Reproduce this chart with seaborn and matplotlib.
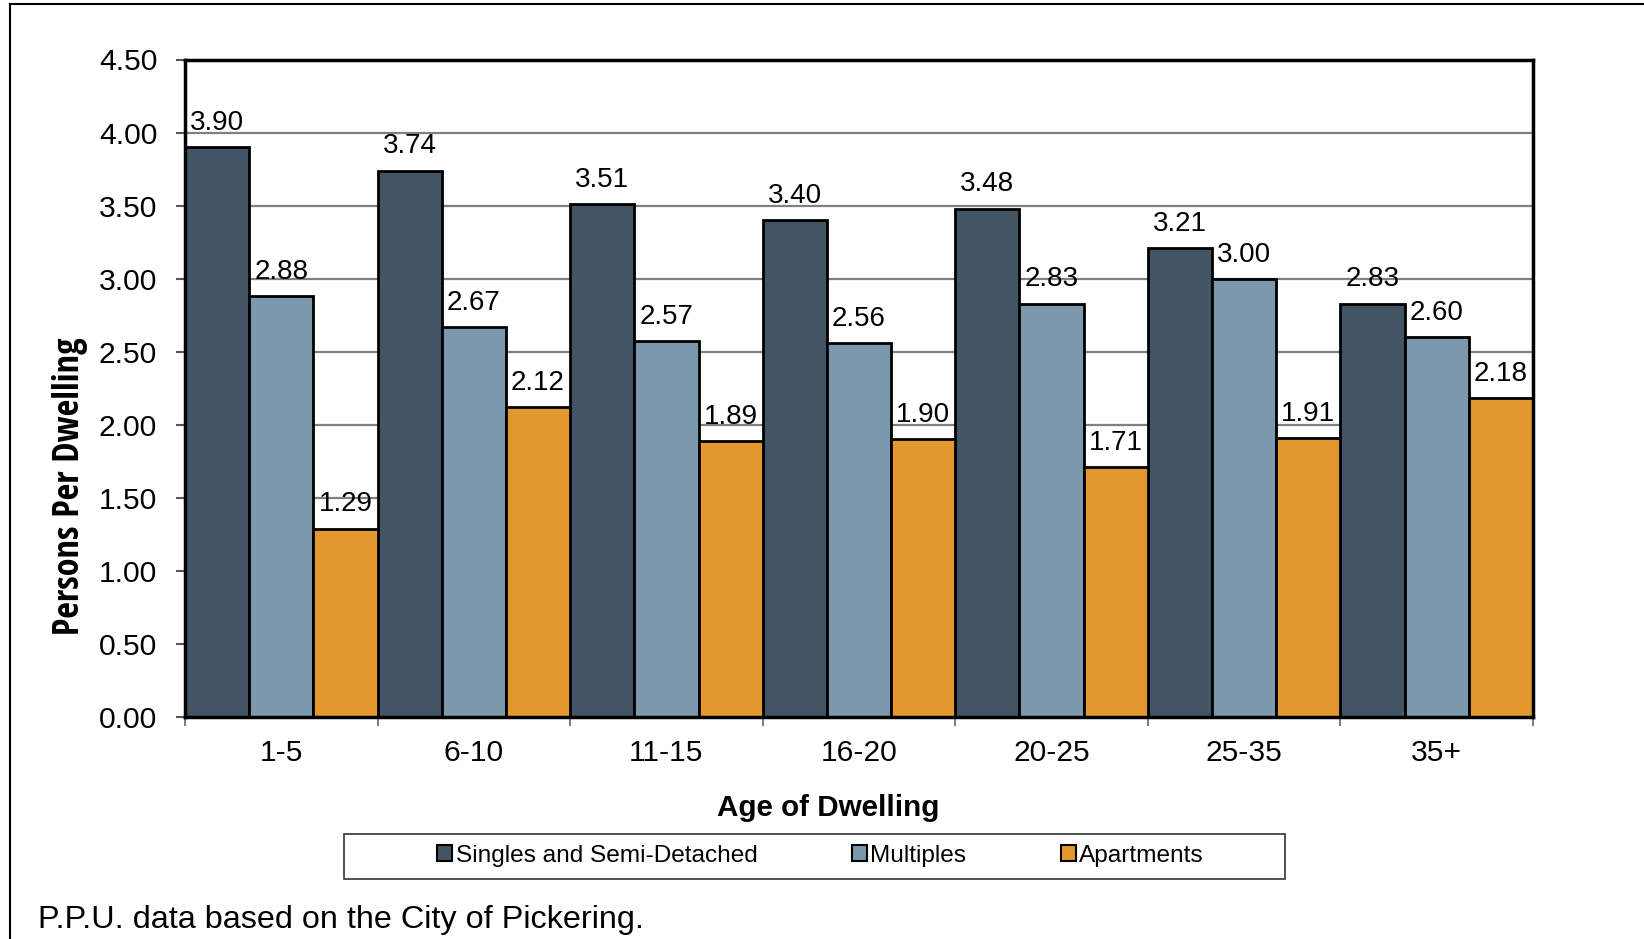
import matplotlib
matplotlib.use("Agg")
import matplotlib.pyplot as plt
import seaborn as sns
import pandas as pd
import numpy as np
from matplotlib import font_manager as fm
from matplotlib.patches import Rectangle
from matplotlib.lines import Line2D
from matplotlib.ticker import FixedLocator, MultipleLocator, FormatStrFormatter

# Persons per dwelling by age of dwelling and unit type
age_groups = ["1-5", "6-10", "11-15", "16-20", "20-25", "25-35", "35+"]
singles = [3.90, 3.74, 3.51, 3.40, 3.48, 3.21, 2.83]
multiples = [2.88, 2.67, 2.57, 2.56, 2.83, 3.00, 2.60]
apartments = [1.29, 2.12, 1.89, 1.90, 1.71, 1.91, 2.18]
series_names = ["Singles and Semi-Detached", "Multiples", "Apartments"]
series_colors = ["#435464", "#7B98AC", "#E3982F"]

records = []
for name, values in zip(series_names, [singles, multiples, apartments]):
    for age, v in zip(age_groups, values):
        records.append({"Age": age, "PPU": v, "Type": name})
df = pd.DataFrame(records)

plt.rcParams["font.family"] = ["Liberation Sans", "DejaVu Sans"]


def narrow_bold_font():
    """Pick a condensed bold sans face if one is installed."""
    prefs = ["liberation sans narrow", "dejavu sans condensed", "noto sans",
             "open sans", "roboto", "liberation sans"]
    best = None
    for f in fm.fontManager.ttflist:
        fname = f.fname.lower()
        is_bold = f.weight in (700, "bold") or "bold" in fname
        narrow = ("narrow" in fname or "condensed" in fname
                  or "narrow" in f.name.lower() or "condensed" in f.name.lower())
        if not (is_bold and narrow):
            continue
        if "semi" in fname or "extra" in fname or "italic" in fname \
                or "oblique" in fname:
            continue
        rank = next((i for i, p in enumerate(prefs)
                     if f.name.lower().startswith(p)), len(prefs))
        if best is None or rank < best[0]:
            best = (rank, f.fname)
    if best is None:
        return fm.FontProperties(family="Liberation Sans", weight="bold")
    return fm.FontProperties(fname=best[1])


W, H = 1644, 939
fig = plt.figure(figsize=(W / 100, H / 100), dpi=100)
ax_left, ax_right, ax_top, ax_bottom = 185, 1533, 59.5, 717
ax = fig.add_axes([ax_left / W, 1 - ax_bottom / H,
                   (ax_right - ax_left) / W, (ax_bottom - ax_top) / H])

sns.barplot(data=df, x="Age", y="PPU", hue="Type", order=age_groups,
            hue_order=series_names, palette=series_colors, width=1.0,
            saturation=1, edgecolor="black", linewidth=2.0, errorbar=None,
            ax=ax, zorder=3)

# value labels above each bar
for container in ax.containers:
    ax.bar_label(container, fmt="%.2f", padding=8, fontsize=20, color="black")

# axes limits, ticks and grid
ax.set_xlim(-0.5, len(age_groups) - 0.5)
ax.set_ylim(0, 4.5)
ax.yaxis.set_major_locator(MultipleLocator(0.5))
ax.yaxis.set_major_formatter(FormatStrFormatter("%.2f"))
ax.xaxis.set_minor_locator(FixedLocator(np.arange(-0.5, len(age_groups), 1.0)))
ax.tick_params(axis="x", which="major", length=0, pad=15.5, labelsize=21.6)
ax.tick_params(axis="x", which="minor", length=6.5, width=1.2, color="#666666",
               direction="out")
ax.tick_params(axis="y", which="major", length=6.5, width=1.5, color="#555555",
               direction="out", pad=13.5, labelsize=21.6)
ax.yaxis.grid(True, color="#808080", linewidth=1.6, zorder=0)
ax.xaxis.grid(False)
ax.set_axisbelow(True)
for side in ["left", "right", "top", "bottom"]:
    ax.spines[side].set_color("black")
    ax.spines[side].set_linewidth(2.5)
    ax.spines[side].set_zorder(5)

ax.set_xlabel("Age of Dwelling", fontsize=21.3, fontweight="bold")
ax.xaxis.set_label_coords((828 - ax_left) / (ax_right - ax_left),
                          -(794 - ax_bottom) / (ax_bottom - ax_top))

# y label in a condensed bold face, sized to span its full length
ylab_fp = narrow_bold_font()
ylab_fp.set_size(27)
ylab = ax.set_ylabel("Persons Per Dwelling", fontproperties=ylab_fp)
fig.canvas.draw()
ext = ylab.get_window_extent(fig.canvas.get_renderer())
ylab_fp.set_size(min(27, 27 * 298 / ext.height))
ylab.set_fontproperties(ylab_fp)
ylab.set_verticalalignment("center")
ax.yaxis.set_label_coords(-(ax_left - 70) / (ax_right - ax_left),
                          1 - (486 - ax_top) / (ax_bottom - ax_top))

# legend in a separate framed box under the chart
handles, labels = ax.get_legend_handles_labels()
ax.get_legend().remove()
for h in handles:
    h.set_linewidth(1.5)
fig.legend(handles, labels, loc="center",
           bbox_to_anchor=(820.5 / W, 1 - 856 / H), ncol=3, frameon=False,
           fontsize=17.6, handlelength=0.62, handleheight=0.62,
           handletextpad=0.15, columnspacing=3.85)
fig.add_artist(Rectangle((344 / W, 1 - 878.6 / H), (1285 - 344) / W,
                         (878.6 - 833.5) / H, transform=fig.transFigure,
                         fill=False, edgecolor="#333333", linewidth=1.2))

# outer frame lines (left and top)
fig.add_artist(Line2D([10.3 / W, 10.3 / W], [0, 1 - 4.3 / H],
                      transform=fig.transFigure, color="black", linewidth=1.5))
fig.add_artist(Line2D([10.3 / W, 1], [1 - 4.3 / H, 1 - 4.3 / H],
                      transform=fig.transFigure, color="black", linewidth=1.5))

fig.text(38 / W, 1 - 928 / H, "P.P.U. data based on the City of Pickering.",
         fontsize=23.3, ha="left", va="baseline")

fig.savefig("out.png", dpi=100, facecolor="white")
